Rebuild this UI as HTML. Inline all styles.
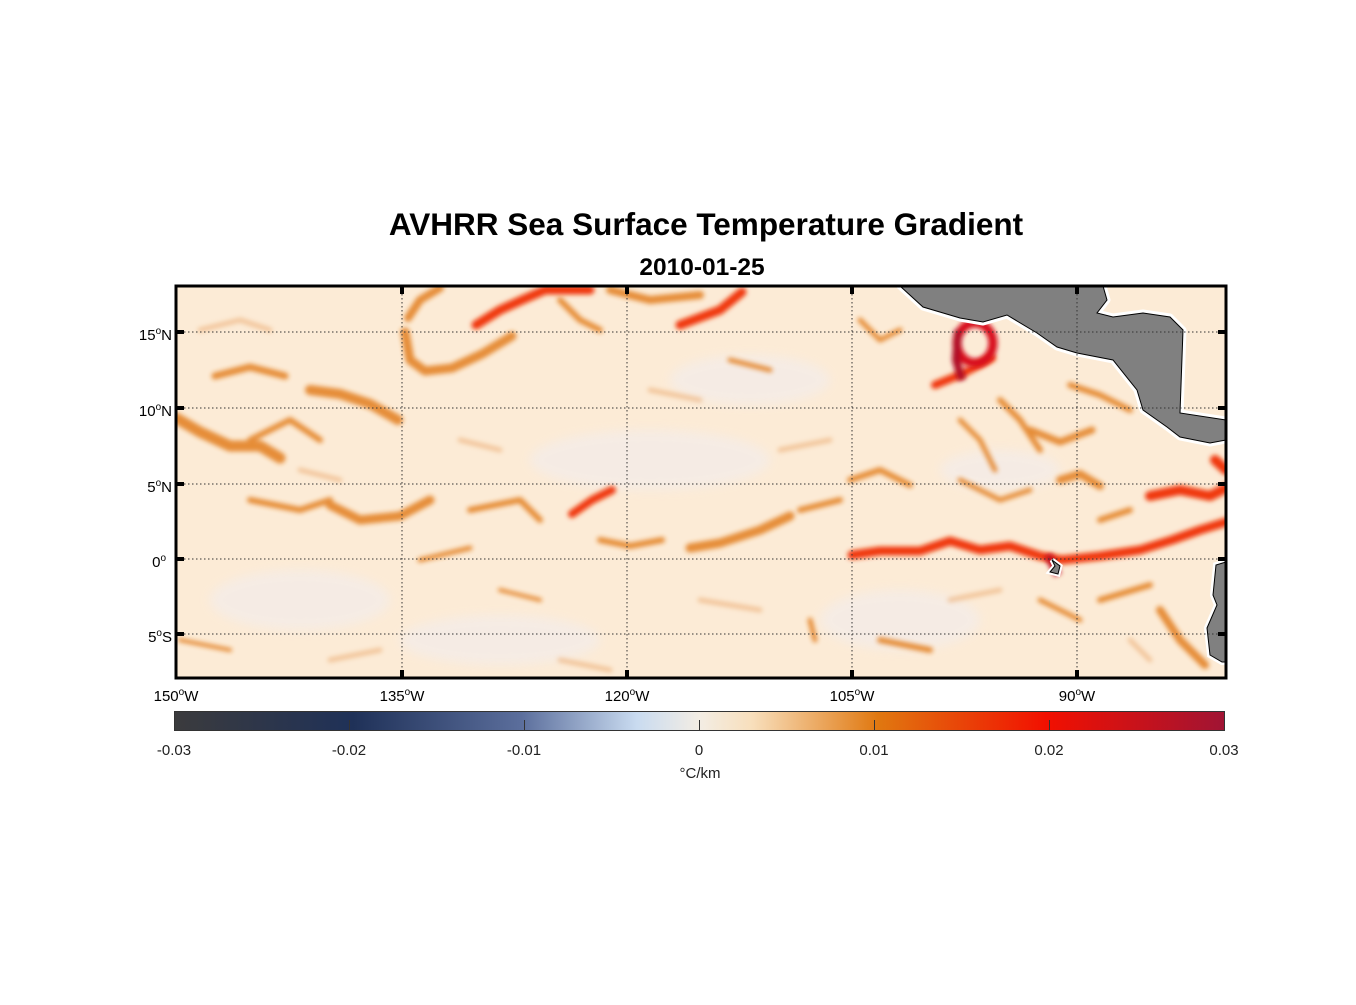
<!DOCTYPE html>
<html><head><meta charset="utf-8"><style>
body{margin:0;background:#fff;width:1356px;height:1000px;overflow:hidden;font-family:"Liberation Sans",sans-serif}
</style></head><body>
<svg width="1356" height="1000" xmlns="http://www.w3.org/2000/svg" font-family="Liberation Sans, sans-serif">
<defs>
<filter id="b" x="-20%" y="-20%" width="140%" height="140%"><feGaussianBlur stdDeviation="2.5"/></filter>
<filter id="b2" x="-20%" y="-20%" width="140%" height="140%"><feGaussianBlur stdDeviation="5"/></filter>
<clipPath id="c"><rect x="176" y="286" width="1050" height="392"/></clipPath>
<linearGradient id="cb" x1="0" x2="1">
<stop offset="0" stop-color="#3b3b3d"/>
<stop offset="0.17" stop-color="#1f3158"/>
<stop offset="0.33" stop-color="#5b6e9c"/>
<stop offset="0.44" stop-color="#c9dbf0"/>
<stop offset="0.5" stop-color="#f3ede4"/>
<stop offset="0.55" stop-color="#f8dfbc"/>
<stop offset="0.67" stop-color="#e07810"/>
<stop offset="0.83" stop-color="#f21000"/>
<stop offset="1" stop-color="#a01434"/>
</linearGradient>
</defs>
<text x="706" y="235" font-size="31.5" font-weight="bold" text-anchor="middle">AVHRR Sea Surface Temperature Gradient</text>
<text x="702" y="275" font-size="24.5" font-weight="bold" text-anchor="middle">2010-01-25</text>
<g clip-path="url(#c)">
<rect x="176" y="286" width="1050" height="392" fill="#fcebd6"/>
<g filter="url(#b2)" fill="#f4ece8" opacity="0.8">
<ellipse cx="300" cy="600" rx="90" ry="30"/><ellipse cx="650" cy="460" rx="120" ry="30"/><ellipse cx="500" cy="640" rx="100" ry="25"/><ellipse cx="900" cy="620" rx="80" ry="30"/><ellipse cx="750" cy="380" rx="80" ry="25"/><ellipse cx="1000" cy="470" rx="60" ry="20"/>
</g>
<g filter="url(#b)" fill="none" stroke-linecap="round" stroke-linejoin="round" stroke="#e8a060" opacity="0.5">
<path d="M200,330 L240,320 L270,330" stroke-width="5"/>
<path d="M300,470 L340,480" stroke-width="5"/>
<path d="M650,390 L700,400" stroke-width="5"/>
<path d="M700,600 L760,610" stroke-width="5"/>
<path d="M330,660 L380,650" stroke-width="5"/>
<path d="M560,660 L610,670" stroke-width="5"/>
<path d="M950,600 L1000,590" stroke-width="5"/>
<path d="M780,450 L830,440" stroke-width="5"/>
<path d="M460,440 L500,450" stroke-width="5"/>
<path d="M1130,640 L1150,660" stroke-width="5"/>
</g>
<g filter="url(#b)" fill="none" stroke-linecap="round" stroke-linejoin="round" stroke="#e27d1a" opacity="0.85">
<path d="M176,418 L200,432 L230,446 L260,446 L280,458" stroke-width="11"/>
<path d="M310,390 L340,394 L370,404 L398,420" stroke-width="10"/>
<path d="M215,376 L250,367 L285,376" stroke-width="7"/>
<path d="M405,332 L410,360 L425,371 L452,368 L482,354 L512,336" stroke-width="9"/>
<path d="M330,505 L360,520 L400,516 L430,500" stroke-width="9"/>
<path d="M250,500 L300,510 L330,500" stroke-width="6"/>
<path d="M600,540 L630,546 L662,540" stroke-width="6"/>
<path d="M690,548 L720,543 L760,530 L790,516" stroke-width="9"/>
<path d="M800,510 L840,500" stroke-width="6"/>
<path d="M470,510 L520,500 L540,520" stroke-width="6"/>
<path d="M420,560 L470,548" stroke-width="5"/>
<path d="M250,440 L290,420 L320,440" stroke-width="6"/>
<path d="M610,290 L650,300 L700,295" stroke-width="8"/>
<path d="M440,288 L420,300 L408,318" stroke-width="8"/>
<path d="M560,300 L580,320 L600,330" stroke-width="6"/>
<path d="M1030,430 L1060,442 L1092,430" stroke-width="7"/>
<path d="M1060,480 L1080,474 L1100,486" stroke-width="8"/>
<path d="M1000,400 L1020,420 L1040,450" stroke-width="6"/>
<path d="M1070,385 L1100,395 L1130,410" stroke-width="6"/>
<path d="M1100,600 L1150,585" stroke-width="6"/>
<path d="M1160,610 L1180,640 L1205,665" stroke-width="8"/>
<path d="M850,480 L880,470 L910,485" stroke-width="6"/>
<path d="M960,480 L1000,500 L1030,490" stroke-width="5"/>
<path d="M880,640 L930,650" stroke-width="6"/>
<path d="M1040,600 L1080,620" stroke-width="5"/>
<path d="M180,640 L230,650" stroke-width="4"/>
<path d="M500,590 L540,600" stroke-width="4"/>
<path d="M1100,520 L1130,510" stroke-width="6"/>
<path d="M960,420 L980,440 L995,470" stroke-width="5"/>
<path d="M860,320 L880,340 L900,330" stroke-width="5"/>
<path d="M730,360 L770,370" stroke-width="5"/>
<path d="M810,620 L815,640" stroke-width="5"/>
</g>
<g filter="url(#b)" fill="none" stroke-linecap="round" stroke-linejoin="round" stroke="#f03808">
<path d="M476,325 L500,310 L522,300 L545,290 L590,290" stroke-width="9"/>
<path d="M680,325 L720,310 L742,292" stroke-width="9"/>
<path d="M572,514 L592,500 L612,490" stroke-width="8"/>
<path d="M852,555 L880,551 L920,551 L950,541 L980,550 L1010,546 L1040,556 L1062,560 L1100,556 L1140,550 L1172,540 L1200,530 L1226,522" stroke-width="9"/>
<path d="M1150,496 L1180,490 L1210,496 L1230,486" stroke-width="10"/>
<path d="M935,385 L962,374 L992,358" stroke-width="8"/>
<path d="M1215,460 L1226,470" stroke-width="10"/>
</g>
<g filter="url(#b)" fill="none">
<ellipse cx="975" cy="343" rx="18" ry="20" stroke="#d8101a" stroke-width="9"/>
<path d="M958,330 L956,360 L962,380" stroke="#b01028" stroke-width="8"/>
<path d="M1048,555 L1058,575" stroke="#c01020" stroke-width="8"/>
</g>
<path d="M900,286 L923,307 L960,318 L983,322 L1007,315 L1037,333 L1057,347 L1077,353 L1113,360 L1137,390 L1143,410 L1167,427 L1180,437 L1210,443 L1226,440 L1226,420 L1180,413 L1183,330 L1170,317 L1143,313 L1113,317 L1097,313 L1107,300 L1103,286 Z" fill="#808080" stroke="#fff" stroke-width="7" stroke-linejoin="round"/>
<path d="M900,286 L923,307 L960,318 L983,322 L1007,315 L1037,333 L1057,347 L1077,353 L1113,360 L1137,390 L1143,410 L1167,427 L1180,437 L1210,443 L1226,440 L1226,420 L1180,413 L1183,330 L1170,317 L1143,313 L1113,317 L1097,313 L1107,300 L1103,286 Z" fill="#808080" stroke="#000" stroke-width="1"/>
<path d="M1226,562 L1216,565 L1213,595 L1217,605 L1207,628 L1210,655 L1222,662 L1226,662 Z" fill="#808080" stroke="#fff" stroke-width="6"/>
<path d="M1226,562 L1216,565 L1213,595 L1217,605 L1207,628 L1210,655 L1222,662 L1226,662 Z" fill="#808080" stroke="#000" stroke-width="1"/>
<path d="M1052,560 L1060,566 L1058,574 L1050,572 L1055,566 Z" fill="#808080" stroke="#fff" stroke-width="5"/>
<path d="M1052,560 L1060,566 L1058,574 L1050,572 L1055,566 Z" fill="#808080" stroke="#000" stroke-width="1"/>
<g stroke="#333" stroke-width="1" stroke-dasharray="1.5,2.5">
<line x1="402" y1="286" x2="402" y2="678"/><line x1="627" y1="286" x2="627" y2="678"/><line x1="852" y1="286" x2="852" y2="678"/><line x1="1077" y1="286" x2="1077" y2="678"/>
<line x1="176" y1="332" x2="1226" y2="332"/><line x1="176" y1="408" x2="1226" y2="408"/><line x1="176" y1="484" x2="1226" y2="484"/><line x1="176" y1="559" x2="1226" y2="559"/><line x1="176" y1="634" x2="1226" y2="634"/>
</g>
</g>
<rect x="176" y="286" width="1050" height="392" fill="none" stroke="#000" stroke-width="3"/>
<g stroke="#000" stroke-width="4">
<line x1="402" y1="286" x2="402" y2="294"/><line x1="627" y1="286" x2="627" y2="294"/><line x1="852" y1="286" x2="852" y2="294"/><line x1="1077" y1="286" x2="1077" y2="294"/>
<line x1="402" y1="678" x2="402" y2="670"/><line x1="627" y1="678" x2="627" y2="670"/><line x1="852" y1="678" x2="852" y2="670"/><line x1="1077" y1="678" x2="1077" y2="670"/>
<line x1="176" y1="332" x2="184" y2="332"/><line x1="176" y1="408" x2="184" y2="408"/><line x1="176" y1="484" x2="184" y2="484"/><line x1="176" y1="559" x2="184" y2="559"/><line x1="176" y1="634" x2="184" y2="634"/>
<line x1="1226" y1="332" x2="1218" y2="332"/><line x1="1226" y1="408" x2="1218" y2="408"/><line x1="1226" y1="484" x2="1218" y2="484"/><line x1="1226" y1="559" x2="1218" y2="559"/><line x1="1226" y1="634" x2="1218" y2="634"/>
</g>
<g font-size="15" text-anchor="end">
<text x="172" y="340">15<tspan font-size="10" dy="-6">o</tspan><tspan dy="6">N</tspan></text>
<text x="172" y="416">10<tspan font-size="10" dy="-6">o</tspan><tspan dy="6">N</tspan></text>
<text x="172" y="492">5<tspan font-size="10" dy="-6">o</tspan><tspan dy="6">N</tspan></text>
<text x="166" y="567">0<tspan font-size="10" dy="-6">o</tspan></text>
<text x="172" y="642">5<tspan font-size="10" dy="-6">o</tspan><tspan dy="6">S</tspan></text>
</g>
<g font-size="15" text-anchor="middle">
<text x="176" y="701">150<tspan font-size="10" dy="-6">o</tspan><tspan dy="6">W</tspan></text>
<text x="402" y="701">135<tspan font-size="10" dy="-6">o</tspan><tspan dy="6">W</tspan></text>
<text x="627" y="701">120<tspan font-size="10" dy="-6">o</tspan><tspan dy="6">W</tspan></text>
<text x="852" y="701">105<tspan font-size="10" dy="-6">o</tspan><tspan dy="6">W</tspan></text>
<text x="1077" y="701">90<tspan font-size="10" dy="-6">o</tspan><tspan dy="6">W</tspan></text>
</g>
<rect x="174.5" y="711.5" width="1050" height="19" fill="url(#cb)" stroke="#333" stroke-width="1"/>
<g stroke="#333" stroke-width="1">
<line x1="349.5" y1="720" x2="349.5" y2="730"/><line x1="524.5" y1="720" x2="524.5" y2="730"/><line x1="699.5" y1="720" x2="699.5" y2="730"/><line x1="874.5" y1="720" x2="874.5" y2="730"/><line x1="1049.5" y1="720" x2="1049.5" y2="730"/>
</g>
<g font-size="15" text-anchor="middle" fill="#222">
<text x="174" y="755">-0.03</text><text x="349" y="755">-0.02</text><text x="524" y="755">-0.01</text><text x="699" y="755">0</text><text x="874" y="755">0.01</text><text x="1049" y="755">0.02</text><text x="1224" y="755">0.03</text>
<text x="700" y="778">°C/km</text>
</g>
</svg>
</body></html>
